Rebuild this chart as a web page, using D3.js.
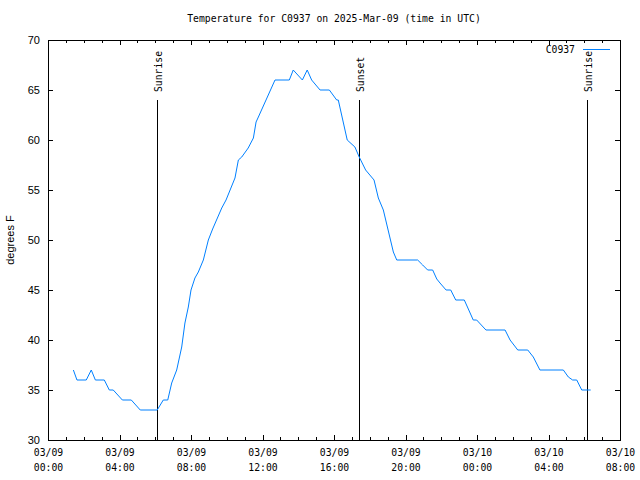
<!DOCTYPE html>
<html>
<head>
<meta charset="utf-8">
<script src="https://cdn.jsdelivr.net/npm/d3@7"></script>
<style>
  html, body { margin: 0; padding: 0; background: #fff; }
  svg { display: block; }
</style>
</head>
<body>
<svg id="chart" width="640" height="480"></svg>
<script>
// ---- data (hours after 2025-03-09 00:00 UTC) ----
const hours = [1.42, 1.62, 2.14, 2.42, 2.65, 3.15, 3.43, 3.65, 4.16, 4.66, 5.16, 6.11,
  6.45, 6.70, 6.92, 7.20, 7.48, 7.66, 7.85, 8.00, 8.22, 8.41, 8.69, 8.97, 9.21, 9.72,
  9.96, 10.46, 10.65, 10.84, 11.20, 11.49, 11.64, 11.77, 12.70, 13.50, 13.72, 14.23,
  14.50, 14.75, 15.22, 15.74, 16.15, 16.24, 16.74, 17.17, 17.41, 17.77, 18.24, 18.48,
  18.76, 19.32, 19.51, 20.68, 20.96, 21.24, 21.52, 21.75, 21.93, 22.27, 22.53, 22.81,
  23.29, 23.79, 23.98, 24.50, 25.57, 25.85, 26.28, 26.84, 27.15, 27.52, 28.83, 29.11,
  29.35, 29.58, 29.86, 30.36];
const temps = [37, 36, 36, 37, 36, 36, 35, 35, 34, 34, 33, 33,
  34, 34, 35.7, 37, 39.3, 41.7, 43.3, 45, 46.2, 46.8, 48, 50, 51.1, 53.2,
  54, 56.2, 58, 58.3, 59.2, 60.2, 61.8, 62.3, 66, 66, 67, 66,
  67, 66, 65, 65, 64, 64, 60, 59.3, 58.3, 57, 56, 54.2,
  53, 48.8, 48, 48, 47.5, 47, 47, 46.1, 45.7, 45, 45, 44,
  44, 42, 42, 41, 41, 40, 39, 39, 38.3, 37, 37, 36.3,
  36, 36, 35, 35];
const sunEvents = ["Sunrise", "Sunset", "Sunrise"];
const sunHours = [6.10, 17.40, 30.15];
const yTicks = [30, 35, 40, 45, 50, 55, 60, 65, 70];
const seriesName = "C0937";
const titleText = "Temperature for C0937 on 2025-Mar-09 (time in UTC)";
const yLabel = "degrees F";

// ---- setup ----
const base = Date.UTC(2025, 2, 9, 0, 0);
const toDate = h => new Date(base + h * 3600e3);
const data = hours.map((h, i) => ({ t: toDate(h), v: temps[i] }));

const mL = 48, mR = 620, mT = 40, mB = 440;
const mono = "'DejaVu Sans Mono', monospace";
const sans = "'Liberation Sans', Arial, sans-serif";

const svg = d3.select("#chart");
const x = d3.scaleUtc().domain([toDate(0), toDate(32)]).range([mL, mR]);
const y = d3.scaleLinear().domain([30, 70]).range([mB, mT]);

const majorTimes = d3.range(0, 33, 4).map(toDate);
const minorTimes = d3.range(0, 33, 1).filter(h => h % 4 !== 0).map(toDate);
const fmtDate = d3.utcFormat("%m/%d");
const fmtTime = d3.utcFormat("%H:%M");

function styleAxis(g) {
  g.attr("shape-rendering", "crispEdges");
  g.select(".domain").remove();
  g.selectAll(".tick line").attr("stroke", "#000");
}

// bottom axis major
const gxb = svg.append("g").attr("transform", `translate(0,${mB})`)
  .call(d3.axisBottom(x).tickValues(majorTimes).tickSize(-5).tickSizeOuter(0).tickFormat(() => ""));
styleAxis(gxb);
gxb.selectAll(".tick text").remove();
gxb.selectAll(".tick").each(function(d) {
  const t = d3.select(this).append("text")
    .attr("text-anchor", "middle").attr("fill", "#000")
    .style("font-family", mono).style("font-size", "9.75px");
  t.append("tspan").attr("x", 0).attr("y", 16).text(fmtDate(d));
  t.append("tspan").attr("x", 0).attr("y", 31).text(fmtTime(d));
});
// bottom minor
const gxbm = svg.append("g").attr("transform", `translate(0,${mB})`)
  .call(d3.axisBottom(x).tickValues(minorTimes).tickSize(-3).tickSizeOuter(0).tickFormat(() => ""));
styleAxis(gxbm);
// top axis major + minor
const gxt = svg.append("g").attr("transform", `translate(0,${mT})`)
  .call(d3.axisTop(x).tickValues(majorTimes).tickSize(-5).tickSizeOuter(0).tickFormat(() => ""));
styleAxis(gxt);
const gxtm = svg.append("g").attr("transform", `translate(0,${mT})`)
  .call(d3.axisTop(x).tickValues(minorTimes).tickSize(-3).tickSizeOuter(0).tickFormat(() => ""));
styleAxis(gxtm);

// left axis
const gyl = svg.append("g").attr("transform", `translate(${mL},0)`)
  .call(d3.axisLeft(y).tickValues(yTicks).tickSize(-5).tickSizeOuter(0).tickPadding(8));
styleAxis(gyl);
gyl.selectAll(".tick text").attr("fill", "#000")
  .style("font-family", sans).style("font-size", "11px");
// right axis
const gyr = svg.append("g").attr("transform", `translate(${mR},0)`)
  .call(d3.axisRight(y).tickValues(yTicks).tickSize(-5).tickSizeOuter(0).tickFormat(() => ""));
styleAxis(gyr);

// frame
svg.append("rect")
  .attr("x", mL + 0.5).attr("y", mT + 0.5)
  .attr("width", mR - mL).attr("height", mB - mT)
  .attr("fill", "none").attr("stroke", "#000").attr("stroke-width", 1);

// sun lines
sunHours.forEach((h, i) => {
  const xp = Math.round(x(toDate(h))) + 0.5;
  svg.append("line").attr("x1", xp).attr("x2", xp).attr("y1", 100).attr("y2", mB)
    .attr("stroke", "#000").attr("stroke-width", 1).attr("shape-rendering", "crispEdges");
  svg.append("text")
    .attr("transform", `translate(${xp + 4},92) rotate(-90)`)
    .attr("text-anchor", "start").attr("fill", "#000")
    .style("font-family", mono).style("font-size", "9.75px")
    .text(sunEvents[i]);
});

// data line
const line = d3.line().x(d => x(d.t)).y(d => y(d.v));
svg.append("path").datum(data)
  .attr("d", line).attr("fill", "none")
  .attr("stroke", "#0080ff").attr("stroke-width", 1);

// legend
svg.append("text").attr("x", 575).attr("y", 53).attr("text-anchor", "end")
  .style("font-family", mono).style("font-size", "9.75px").text(seriesName);
svg.append("line").attr("x1", 583).attr("x2", 610).attr("y1", 49.5).attr("y2", 49.5)
  .attr("stroke", "#0080ff").attr("stroke-width", 1);

// title
svg.append("text").attr("x", 334).attr("y", 22).attr("text-anchor", "middle")
  .style("font-family", mono).style("font-size", "9.75px").text(titleText);

// y label
svg.append("text").attr("transform", "translate(14,240) rotate(-90)")
  .attr("text-anchor", "middle")
  .style("font-family", sans).style("font-size", "11px").text(yLabel);
</script>
</body>
</html>
